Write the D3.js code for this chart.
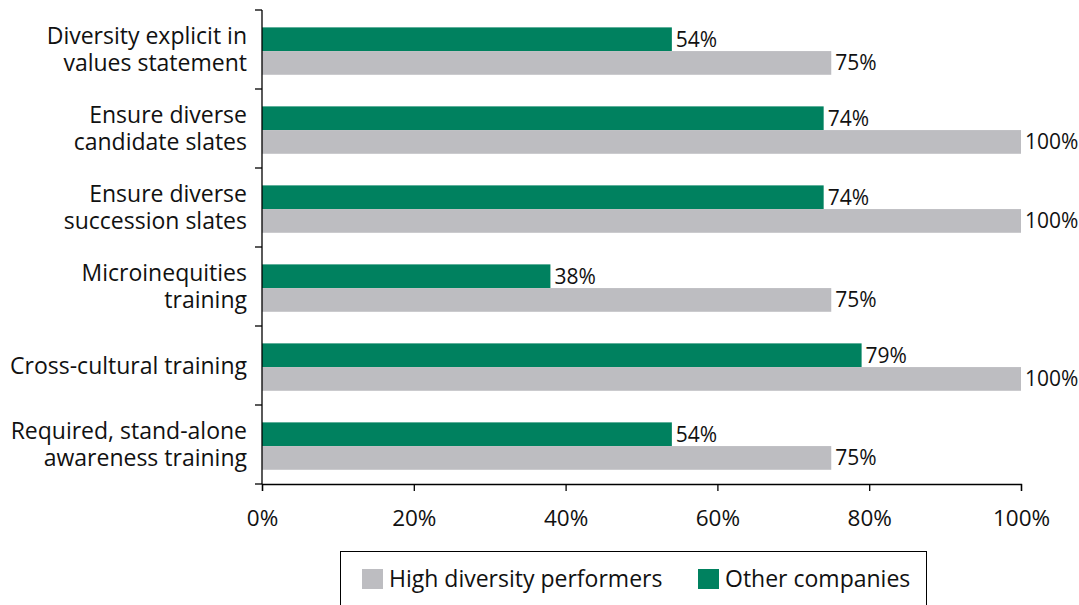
<!DOCTYPE html>
<html>
<head>
<meta charset="utf-8">
<script src="https://cdn.jsdelivr.net/npm/d3@7"></script>
<style>
  html, body { margin: 0; padding: 0; background: #fff; }
  svg { display: block; }
  text { font-family: "Open Sans", sans-serif; fill: #111; }
</style>
</head>
<body>
<svg id="chart" width="1079" height="605"></svg>
<script>
const categories = [
  ["Diversity explicit in", "values statement"],
  ["Ensure diverse", "candidate slates"],
  ["Ensure diverse", "succession slates"],
  ["Microinequities", "training"],
  ["Cross-cultural training"],
  ["Required, stand-alone", "awareness training"]
];
const seriesNames = ["Other companies", "High diversity performers"];
const otherCompanies = [54, 74, 74, 38, 79, 54];
const highDiversity = [75, 100, 100, 75, 100, 75];
const xTicks = [0, 20, 40, 60, 80, 100];
const colors = { "Other companies": "#00815f", "High diversity performers": "#bdbdc1" };
const legendOrder = ["High diversity performers", "Other companies"];

const svg = d3.select("#chart");
const labelSize = 23;
const valueSize = 21;

const x = d3.scaleLinear().domain([0, 100]).range([262, 1021]);
const idx = d3.range(categories.length);
const y0 = d3.scaleBand().domain(idx).range([10, 484]).paddingInner(0.4).paddingOuter(0.2).align(0.55);
const y1 = d3.scaleBand().domain(seriesNames).range([0, y0.bandwidth()]);

const data = idx.map(i => ({
  i,
  values: [
    { key: "Other companies", v: otherCompanies[i] },
    { key: "High diversity performers", v: highDiversity[i] }
  ]
}));

// bars
const groups = svg.append("g").selectAll("g").data(data).join("g")
  .attr("transform", d => `translate(0,${y0(d.i)})`);
groups.selectAll("rect").data(d => d.values).join("rect")
  .attr("x", x(0))
  .attr("y", d => y1(d.key))
  .attr("width", d => x(d.v) - x(0))
  .attr("height", y1.bandwidth())
  .attr("fill", d => colors[d.key]);
groups.selectAll("text.val").data(d => d.values).join("text")
  .attr("class", "val")
  .attr("x", d => x(d.v) + 4)
  .attr("y", d => y1(d.key) + y1.bandwidth() / 2)
  .attr("dy", "0.36em")
  .attr("font-size", valueSize)
  .text(d => d.v + "%");

// y axis line and boundary ticks
const step = y0.step();
const yStart = 10, yEnd = 484;
const yAxis = svg.append("g").attr("stroke", "#000").attr("stroke-width", 1.3);
yAxis.append("line").attr("x1", x(0)).attr("x2", x(0)).attr("y1", yStart).attr("y2", yEnd);
yAxis.selectAll("line.t").data(d3.range(categories.length + 1)).join("line")
  .attr("class", "t")
  .attr("x1", x(0) - 7).attr("x2", x(0))
  .attr("y1", k => yStart + k * step).attr("y2", k => yStart + k * step);

// category labels
const lineH = 27;
const labs = svg.append("g").selectAll("text").data(idx).join("text")
  .attr("text-anchor", "end")
  .attr("font-size", labelSize)
  .attr("transform", i => `translate(247,${yStart + i * step + step / 2})`);
labs.selectAll("tspan").data(i => categories[i].map((t, k, a) => ({ t, k, n: a.length }))).join("tspan")
  .attr("x", 0)
  .attr("y", d => (d.k - (d.n - 1) / 2) * lineH)
  .attr("dy", "0.36em")
  .text(d => d.t);

// x axis
const xAxisG = svg.append("g").attr("transform", `translate(0,${yEnd})`)
  .call(d3.axisBottom(x).tickValues(xTicks).tickFormat(d => d + "%").tickSize(7).tickPadding(19));
xAxisG.select(".domain").attr("stroke", "#000").attr("stroke-width", 1.3);
xAxisG.selectAll(".tick line").attr("stroke", "#000").attr("stroke-width", 1.3);
xAxisG.selectAll(".tick text").attr("font-size", 22.5).attr("font-family", "Open Sans, sans-serif").attr("fill", "#111");

// legend
const lg = svg.append("g");
lg.append("rect").attr("x", 340.5).attr("y", 551.5).attr("width", 586).attr("height", 80)
  .attr("fill", "none").attr("stroke", "#000").attr("stroke-width", 1);
const legendX = [362, 698];
legendOrder.forEach((name, k) => {
  lg.append("rect").attr("x", legendX[k]).attr("y", 569).attr("width", 21).attr("height", 20).attr("fill", colors[name]);
  lg.append("text").attr("x", legendX[k] + 27).attr("y", 579).attr("dy", "0.36em")
    .attr("font-size", labelSize).text(name);
});
</script>
</body>
</html>
